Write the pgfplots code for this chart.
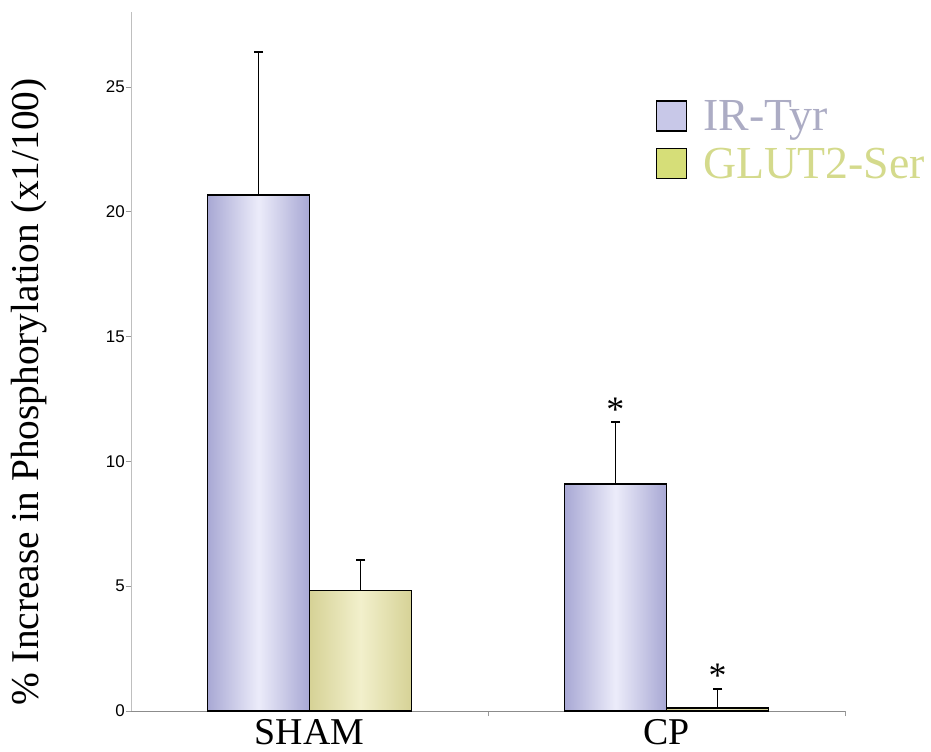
\documentclass[border=0pt]{standalone}
\usepackage{fontspec}
\setmainfont{Liberation Serif}
\newfontfamily\arial{Liberation Sans}
\usepackage{pgfplots}
\pgfplotsset{compat=1.18}
\definecolor{irside}{RGB}{168,168,212}
\definecolor{irmid}{RGB}{236,236,250}
\definecolor{glside}{RGB}{214,210,150}
\definecolor{glmid}{RGB}{242,240,204}
\definecolor{irleg}{RGB}{200,200,232}
\definecolor{glleg}{RGB}{214,222,120}
\definecolor{irtext}{RGB}{172,172,196}
\definecolor{gltext}{RGB}{212,218,140}

\begin{document}
\begin{tikzpicture}
\path[use as bounding box] (-131bp,-41bp) rectangle (800bp,711bp);
\begin{axis}[
  scale only axis, width=714bp, height=698.88bp,
  xmin=-0.5, xmax=1.5, ymin=0, ymax=28,
  axis lines*=left,
  x axis line style={color=black!45, line width=0.8bp},
  y axis line style={color=black!25, line width=0.8bp},
  xtick={0.5,1.5}, xticklabels={},
  ytick={0,5,10,15,20,25},
  tick align=outside, major tick length=5bp,
  tick style={color=black!40, line width=0.6bp},
  yticklabel style={font=\arial\fontsize{17}{17}\selectfont, inner sep=0pt, xshift=-1bp},
  /pgf/number format/assume math mode=true,
  clip=false,
  legend image code/.code={\draw[#1] (0bp,-15bp) rectangle (30bp,15bp);},
  legend style={draw=none, fill=none, inner sep=0pt, at={(axis cs:0.97,24.6)}, anchor=north west,
    font=\fontsize{46}{46}\selectfont, nodes={inner sep=3bp}, row sep=10bp,
    /tikz/every odd column/.append style={column sep=13bp}},
  legend cell align=left,
]
% bars
\addplot[ybar, bar width=0.285, draw=black, line width=1.3bp, left color=irside, right color=irside, middle color=irmid, forget plot]
  coordinates {(-0.143,20.67)};
\addplot[ybar, bar width=0.285, draw=black, line width=1.3bp, left color=glside, right color=glside, middle color=glmid, forget plot]
  coordinates {(0.143,4.82)};
\addplot[ybar, bar width=0.285, draw=black, line width=1.3bp, left color=irside, right color=irside, middle color=irmid, forget plot]
  coordinates {(0.857,9.1)};
\addplot[ybar, bar width=0.285, draw=black, line width=1.3bp, left color=glside, right color=glside, middle color=glmid, forget plot]
  coordinates {(1.143,0.12)};
% error bars (mean to mean + SE)
\addplot[black, line width=1.1bp, forget plot] coordinates {(-0.143,20.67) (-0.143,26.40)};
\addplot[black, line width=1.1bp, forget plot] coordinates {(0.143,4.82) (0.143,6.05)};
\addplot[black, line width=1.1bp, forget plot] coordinates {(0.857,9.1) (0.857,11.57)};
\addplot[black, line width=1.1bp, forget plot] coordinates {(1.143,0.12) (1.143,0.87)};
\addplot[only marks, mark=-, mark size=4.7bp, mark options={black, line width=1.8bp}, forget plot]
  coordinates {(-0.143,26.40) (0.143,6.05) (0.857,11.57) (1.143,0.87)};
% legend
\addlegendimage{fill=irleg, draw=black, line width=1.5bp}
\addlegendentry{\textcolor{irtext}{IR-Tyr}}
\addlegendimage{fill=glleg, draw=black, line width=1.5bp}
\addlegendentry{\textcolor{gltext}{GLUT2-Ser}}
% category labels and asterisks
\node[anchor=north, inner sep=0pt, yshift=-8bp, font=\fontsize{38}{38}\selectfont] at (axis cs:0,0) {SHAM};
\node[anchor=north, inner sep=0pt, yshift=-8bp, font=\fontsize{38}{38}\selectfont] at (axis cs:1,0) {CP};
\node[anchor=base, inner sep=0pt, font=\fontsize{36}{36}\selectfont] at (axis cs:0.857,11.6) {*};
\node[anchor=base, inner sep=0pt, font=\fontsize{36}{36}\selectfont] at (axis cs:1.143,0.95) {*};
\end{axis}
\node[rotate=90, anchor=base, inner sep=0pt, font=\fontsize{39.5}{39.5}\selectfont] at (-92bp,319bp) {\% Increase in Phosphorylation (x1/100)};
\end{tikzpicture}
\end{document}
